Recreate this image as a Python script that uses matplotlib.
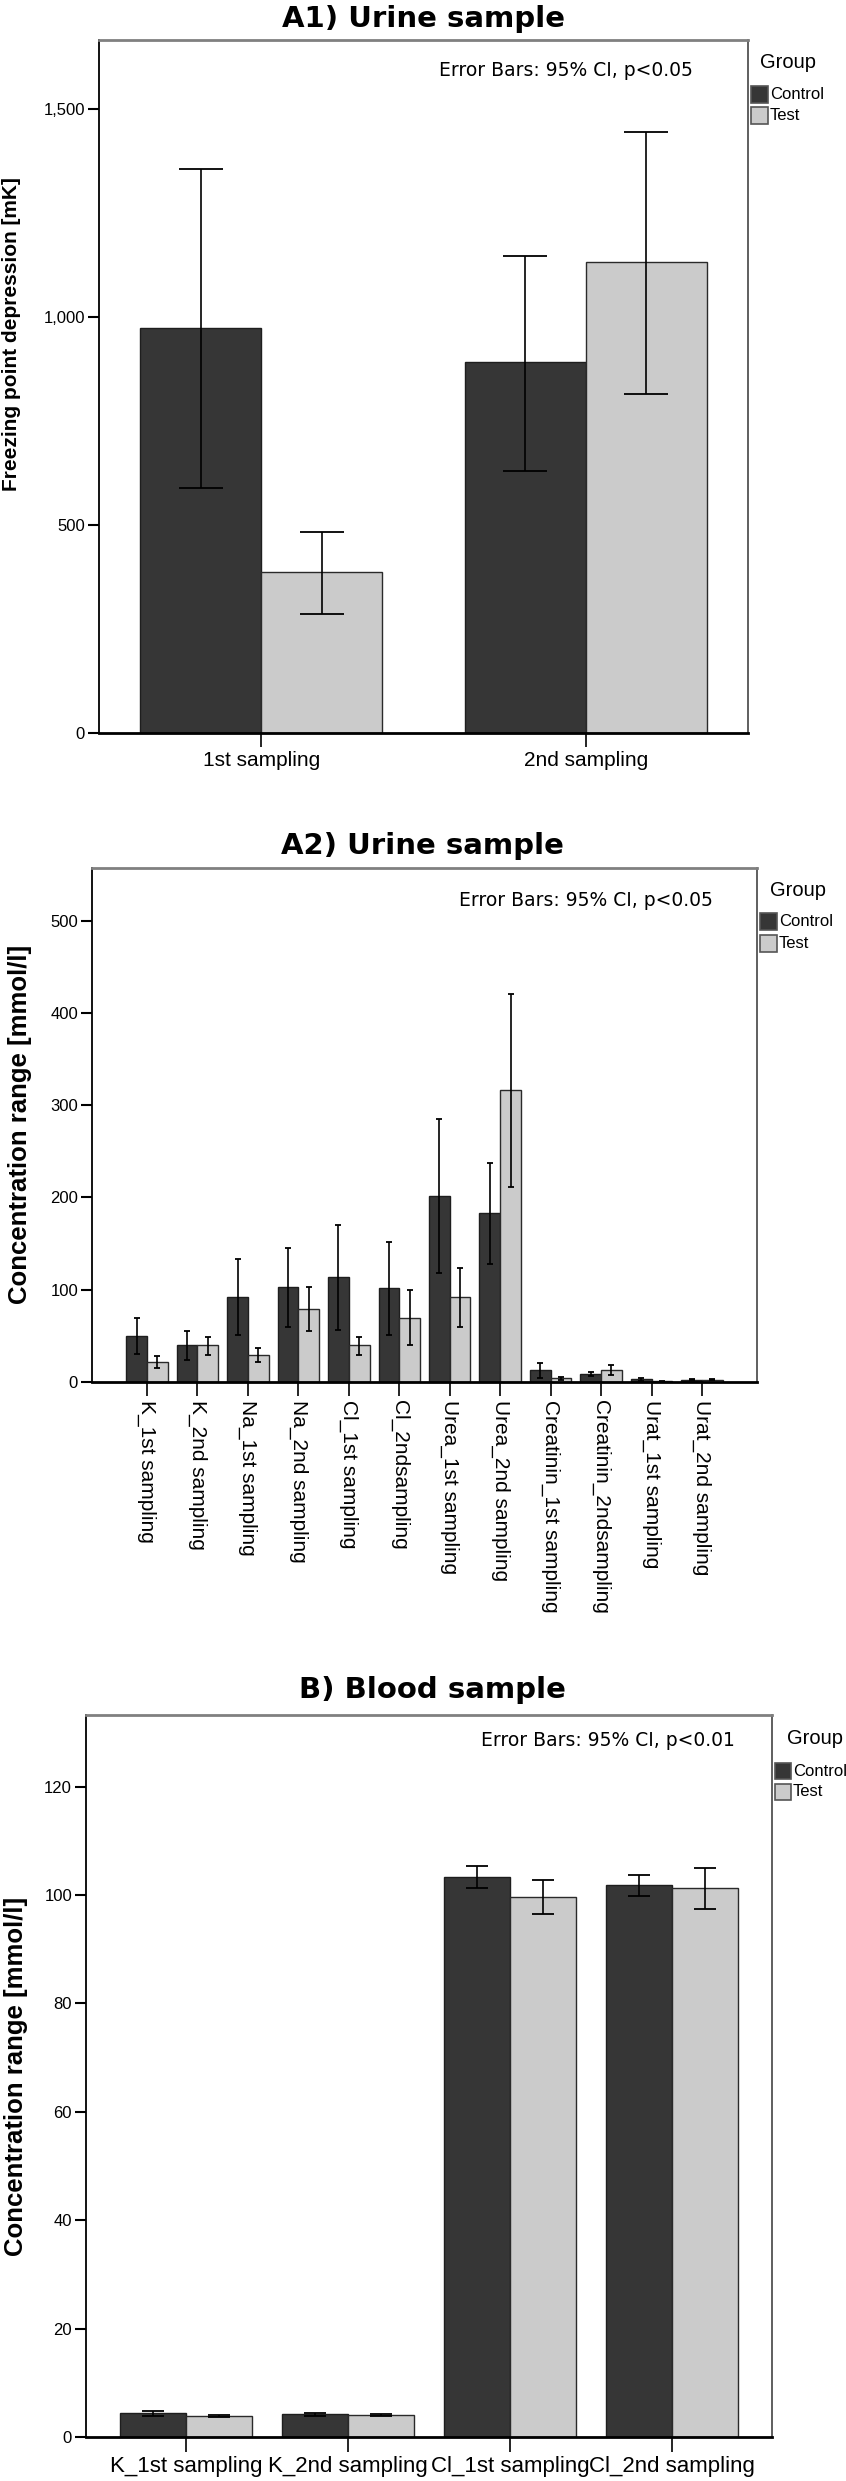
import numpy as np
import matplotlib
matplotlib.use('Agg')
import matplotlib.pyplot as plt
from matplotlib.patches import Rectangle
from matplotlib.ticker import FuncFormatter

plt.rcParams['font.family'] = ['Liberation Sans', 'DejaVu Sans']

W, H = 846, 2481
CTRL = '#363636'
TEST = '#cbcbcb'

# A1) Urine sample - freezing point depression [mK]
a1_cats = ['1st sampling', '2nd sampling']
a1_ctrl = [974, 891]
a1_ctrl_lo = [589, 630]
a1_ctrl_hi = [1356, 1147]
a1_test = [387, 1132]
a1_test_lo = [286, 815]
a1_test_hi = [483, 1445]

# A2) Urine sample - concentrations [mmol/l]
a2_cats = ['K_1st sampling', 'K_2nd sampling', 'Na_1st sampling', 'Na_2nd sampling',
           'Cl_1st sampling', 'Cl_2ndsampling', 'Urea_1st sampling', 'Urea_2nd sampling',
           'Creatinin_1st sampling', 'Creatinin_2ndsampling', 'Urat_1st sampling',
           'Urat_2nd sampling']
a2_ctrl = [50.2, 39.7, 92.4, 102.9, 113.4, 101.5, 201.9, 182.7, 13.0, 9.0, 2.9, 2.5]
a2_ctrl_lo = [30.3, 23.8, 50.9, 59.6, 56.7, 50.6, 117.8, 127.8, 4.0, 6.5, 1.6, 1.8]
a2_ctrl_hi = [69.7, 55.2, 133.6, 145.0, 170.0, 151.3, 285.0, 236.9, 20.9, 11.2, 3.9, 3.2]
a2_test = [21.7, 39.7, 29.3, 79.0, 39.7, 69.7, 92.0, 316.4, 4.0, 13.0, 0.8, 2.6]
a2_test_lo = [14.8, 28.9, 21.7, 55.6, 29.6, 39.7, 60.0, 211.6, 2.0, 7.6, 0.5, 2.0]
a2_test_hi = [28.0, 48.4, 37.2, 102.6, 49.1, 99.7, 123.5, 421.0, 5.8, 18.4, 1.2, 3.3]

# B) Blood sample - concentrations [mmol/l]
b_cats = ['K_1st sampling', 'K_2nd sampling', 'Cl_1st sampling', 'Cl_2nd sampling']
b_ctrl = [4.4, 4.2, 103.3, 101.8]
b_ctrl_lo = [3.9, 3.9, 101.3, 99.9]
b_ctrl_hi = [4.8, 4.5, 105.3, 103.6]
b_test = [3.9, 4.0, 99.6, 101.2]
b_test_lo = [3.7, 3.8, 96.4, 97.4]
b_test_hi = [4.1, 4.2, 102.7, 104.9]


def rect(l, t, r, b):
    return [l / W, 1 - b / H, (r - l) / W, (b - t) / H]


def fx(x):
    return x / W


def fy(y):
    return 1 - y / H


def panel(box, cats, ctrl, clo, chi, test, tlo, thi, bw, cap, ylim, yticks,
          xpad, rot, ticklen, xsize=15):
    ax = fig.add_axes(rect(*box))
    x = np.arange(len(cats))
    ctrl, clo, chi = np.array(ctrl), np.array(clo), np.array(chi)
    test, tlo, thi = np.array(test), np.array(tlo), np.array(thi)
    ax.bar(x - bw / 2, ctrl, bw, color=CTRL, edgecolor='#1e1e1e', linewidth=1, zorder=2)
    ax.bar(x + bw / 2, test, bw, color=TEST, edgecolor='#2a2a2a', linewidth=1, zorder=2)
    ax.errorbar(x - bw / 2, ctrl, yerr=[ctrl - clo, chi - ctrl], fmt='none',
                ecolor='black', elinewidth=1.2, capsize=cap, capthick=1.3, zorder=3)
    ax.errorbar(x + bw / 2, test, yerr=[test - tlo, thi - test], fmt='none',
                ecolor='black', elinewidth=1.2, capsize=cap, capthick=1.3, zorder=3)
    ax.set_xlim(-xpad, len(cats) - 1 + xpad)
    ax.set_ylim(*ylim)
    ax.set_yticks(yticks)
    ax.yaxis.set_major_formatter(FuncFormatter(lambda v, p: f'{v:,.0f}'))
    ax.set_xticks(x)
    if rot:
        ax.set_xticklabels(cats, rotation=-90, fontsize=xsize, va='top', ha='center')
    else:
        ax.set_xticklabels(cats, fontsize=xsize)
    ax.tick_params(axis='y', length=8, width=1.5, labelsize=12, pad=2)
    ax.tick_params(axis='x', length=ticklen, width=1.2, pad=3)
    ax.spines['left'].set_color('black')
    ax.spines['left'].set_linewidth(1.3)
    ax.spines['bottom'].set_color('black')
    ax.spines['bottom'].set_linewidth(2)
    ax.spines['top'].set_color('#808080')
    ax.spines['top'].set_linewidth(2)
    ax.spines['right'].set_color('#444444')
    ax.spines['right'].set_linewidth(1.2)
    return ax


def legend(gx, gy, px, py1, py2, size=17):
    fig.text(fx(gx), fy(gy), 'Group', fontsize=14.5, ha='left', va='center')
    for yy, col, lab in [(py1, CTRL, 'Control'), (py2, TEST, 'Test')]:
        fig.patches.append(Rectangle((fx(px), fy(yy + size)), size / W, size / H,
                                     transform=fig.transFigure, facecolor=col,
                                     edgecolor='#555555', linewidth=1.2))
        fig.text(fx(px + size + 2), fy(yy + size / 2), lab, fontsize=12,
                 ha='left', va='center')


fig = plt.figure(figsize=(W / 100, H / 100), dpi=100)

# --- A1
panel((99, 40, 748, 733), a1_cats, a1_ctrl, a1_ctrl_lo, a1_ctrl_hi,
      a1_test, a1_test_lo, a1_test_hi, 0.373, 16, (0, 1666), [0, 500, 1000, 1500],
      0.5, False, 10)
fig.text(fx(424), fy(19), 'A1) Urine sample', fontsize=21, fontweight='bold',
         family='DejaVu Sans', ha='center', va='center')
fig.text(fx(693), fy(71), 'Error Bars: 95% CI, p<0.05', fontsize=13.5,
         family='DejaVu Sans', ha='right', va='center')
fig.text(fx(12), fy(334), 'Freezing point depression [mK]', fontsize=15,
         fontweight='bold', rotation=90, ha='center', va='center')
legend(760, 63, 751, 86, 107)

# --- A2
panel((92, 868, 757, 1382), a2_cats, a2_ctrl, a2_ctrl_lo, a2_ctrl_hi,
      a2_test, a2_test_lo, a2_test_hi, 0.41, 2, (0, 557), [0, 100, 200, 300, 400, 500],
      1.09, True, 10)
fig.text(fx(422), fy(846), 'A2) Urine sample', fontsize=21, fontweight='bold',
         family='DejaVu Sans', ha='center', va='center')
fig.text(fx(713), fy(900), 'Error Bars: 95% CI, p<0.05', fontsize=13.5,
         family='DejaVu Sans', ha='right', va='center')
fig.text(fx(20), fy(1124), 'Concentration range [mmol/l]', fontsize=18.5,
         fontweight='bold', rotation=90, ha='center', va='center')
legend(770, 890, 760, 913, 935)

# --- B
panel((86, 1715, 772, 2437), b_cats, b_ctrl, b_ctrl_lo, b_ctrl_hi,
      b_test, b_test_lo, b_test_hi, 0.405, 8, (0, 133.2), [0, 20, 40, 60, 80, 100, 120],
      0.617, False, 11, xsize=16)
fig.text(fx(432), fy(1690), 'B) Blood sample', fontsize=21, fontweight='bold',
         family='DejaVu Sans', ha='center', va='center')
fig.text(fx(735), fy(1741), 'Error Bars: 95% CI, p<0.01', fontsize=13.5,
         family='DejaVu Sans', ha='right', va='center')
fig.text(fx(16), fy(2076), 'Concentration range [mmol/l]', fontsize=18.5,
         fontweight='bold', rotation=90, ha='center', va='center')
legend(787, 1738, 775, 1763, 1784, size=16)

fig.savefig('out.png', dpi=100)
